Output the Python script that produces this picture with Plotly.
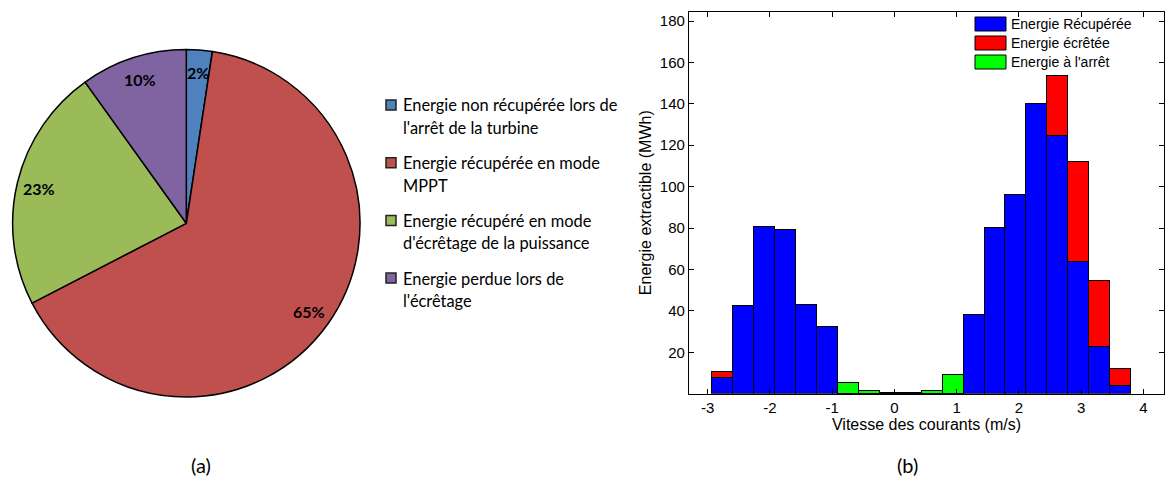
import math
import plotly.graph_objects as go

W, H = 1170, 477

# --- (a) pie data ---
pie_labels = [
    "Energie non récupérée lors de l'arrêt de la turbine",
    "Energie récupérée en mode MPPT",
    "Energie récupéré en mode d'écrêtage de la puissance",
    "Energie perdue lors de l'écrêtage",
]
pie_legend_lines = [
    ["Energie non récupérée lors de", "l'arrêt de la turbine"],
    ["Energie récupérée en mode", "MPPT"],
    ["Energie récupéré en mode", "d'écrêtage de la puissance"],
    ["Energie perdue lors de", "l'écrêtage"],
]
pie_values = [2.4, 65.0, 22.7, 9.9]
pie_colors = ["#4F81BD", "#C0504D", "#9BBB59", "#8064A2"]

# --- (b) histogram data (20 speed bins) ---
speed_centers = [-2.764, -2.427, -2.090, -1.753, -1.416, -1.079, -0.742, -0.406,
                 -0.069, 0.268, 0.605, 0.942, 1.279, 1.616, 1.952, 2.289,
                 2.626, 2.963, 3.300, 3.637]
bin_width = 0.3368
e_recup = [7.5, 42.5, 80.6, 79.0, 42.8, 32.5, 0, 0, 0, 0,
           0, 0, 38.0, 80.4, 96.1, 140.3, 124.8, 63.8, 22.6, 3.7]
e_ecretee = [3.2, 0, 0, 0, 0, 0, 0, 0, 0, 0,
             0, 0, 0, 0, 0, 0, 28.6, 48.4, 32.0, 8.3]
e_arret = [0, 0, 0, 0, 0, 0, 5.1, 1.3, 0.4, 0.4,
           1.3, 9.0, 0, 0, 0, 0, 0, 0, 0, 0]
bar_names = ["Energie Récupérée", "Energie écrêtée", "Energie à l'arrêt"]
bar_colors = ["#0000FF", "#FF0000", "#00FF00"]
y_ticks = [20, 40, 60, 80, 100, 120, 140, 160, 180]
x_ticks = [-3, -2, -1, 0, 1, 2, 3, 4]
x_ticktext = ["-3", "-2", "-1", "0", "1", "2", "3", "4"]


def px(x):
    return x / W


def py(y):
    return 1 - y / H


fig = go.Figure()

# pie geometry (pixels)
pie_cx, pie_cy, pie_r = 186.3, 223.3, 173.7
fig.add_trace(go.Pie(
    labels=pie_labels, values=pie_values, sort=False, direction="clockwise",
    rotation=0, textinfo="none", hoverinfo="label+percent",
    marker=dict(colors=pie_colors, line=dict(color="black", width=1.5)),
    domain=dict(x=[px(pie_cx - pie_r), px(pie_cx + pie_r)],
                y=[py(pie_cy + pie_r), py(pie_cy - pie_r)]),
    showlegend=False,
))

annotations = []
shapes = []

# percent labels placed near the outer edge, like the original
total = sum(pie_values)
cum = 0
for v in pie_values:
    mid = (cum + v / 2) / total * 2 * math.pi
    cum += v
    lx = pie_cx + 0.87 * pie_r * math.sin(mid)
    ly = pie_cy - 0.87 * pie_r * math.cos(mid)
    annotations.append(dict(
        x=px(lx), y=py(ly), xref="paper", yref="paper", showarrow=False,
        xanchor="center", yanchor="middle",
        text=f"<b>{round(v / total * 100)}%</b>",
        font=dict(family="Lato", size=16, color="black")))

# pie legend
for k, (lines, col) in enumerate(zip(pie_legend_lines, pie_colors)):
    y0 = 105 + 57.7 * k
    shapes.append(dict(type="rect", xref="paper", yref="paper",
                       x0=px(386), x1=px(396), y0=py(y0 + 5), y1=py(y0 - 5),
                       fillcolor=col, line=dict(color="#222222", width=1.5)))
    for j, t in enumerate(lines):
        annotations.append(dict(
            x=px(401), y=py(y0 + 22.5 * j), xref="paper", yref="paper",
            xanchor="left", yanchor="middle", showarrow=False, text=t,
            font=dict(family="Lato", size=16.4, color="black")))

# stacked histogram
for name, vals, col in zip(bar_names, [e_recup, e_ecretee, e_arret], bar_colors):
    fig.add_trace(go.Bar(
        x=speed_centers, y=vals, width=bin_width, name=name,
        marker=dict(color=col, line=dict(color="black", width=1)),
        xaxis="x", yaxis="y", showlegend=False))

# bar legend (MATLAB style swatches)
for k, (name, col) in enumerate(zip(bar_names, bar_colors)):
    yc = 24 + 19 * k
    shapes.append(dict(type="rect", xref="paper", yref="paper",
                       x0=px(975), x1=px(1006), y0=py(yc + 7), y1=py(yc - 7),
                       fillcolor=col, line=dict(color="black", width=1)))
    annotations.append(dict(
        x=px(1009), y=py(yc), xref="paper", yref="paper", xanchor="left",
        yanchor="middle", showarrow=False, text=name,
        font=dict(family="Liberation Sans, Arial", size=14, color="black")))

# sub-figure captions
for t, cx in [("(a)", 201), ("(b)", 907)]:
    annotations.append(dict(
        x=px(cx), y=py(465), xref="paper", yref="paper", showarrow=False,
        xanchor="center", yanchor="middle",
        text=t, font=dict(family="Lato", size=20, color="black")))

axis_font = dict(family="Liberation Sans, Arial", size=15, color="black")
fig.update_layout(
    width=W, height=H, margin=dict(l=0, r=0, t=0, b=0),
    paper_bgcolor="white", plot_bgcolor="white",
    barmode="stack", bargap=0,
    xaxis=dict(domain=[px(689), px(1164)], range=[-3.30, 4.33],
               tickvals=x_ticks, ticktext=x_ticktext,
               ticks="inside", ticklen=5, tickcolor="black",
               showline=True, linecolor="black", linewidth=1.2, mirror="ticks",
               showgrid=False, zeroline=False, tickfont=axis_font,
               title=dict(text="Vitesse des courants (m/s)", standoff=2,
                          font=dict(family="Liberation Sans, Arial", size=16, color="black"))),
    yaxis=dict(domain=[py(393.7), py(11.7)], range=[0, 184.5],
               tickvals=y_ticks, ticks="inside", ticklen=5, tickcolor="black",
               showline=True, linecolor="black", linewidth=1.2, mirror="ticks",
               showgrid=False, zeroline=False, tickfont=axis_font,
               title=dict(text="Energie extractible (MWh)", standoff=4,
                          font=dict(family="Liberation Sans, Arial", size=16, color="black"))),
    annotations=annotations, shapes=shapes,
)

fig.write_html("out.html", config={"displayModeBar": False},
               post_script="document.body.style.margin='0';")
